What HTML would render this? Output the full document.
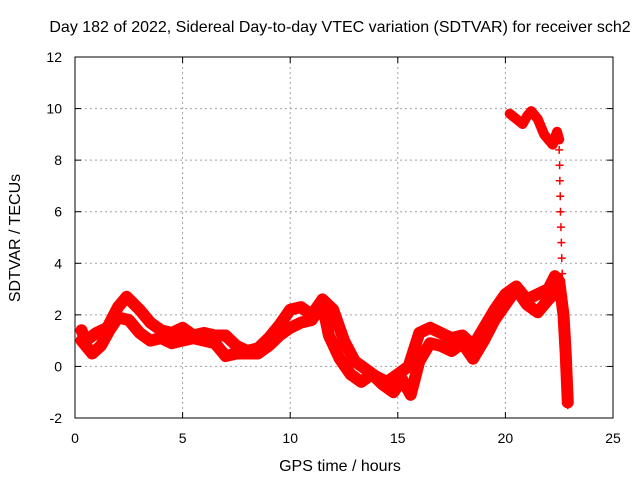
<!DOCTYPE html>
<html><head><meta charset="utf-8"><style>
body{margin:0;background:#fff}
svg{display:block;font-family:"Liberation Sans",sans-serif}
</style></head><body>
<svg id="chart" width="640" height="480">
<text x="340" y="32" font-size="16" text-anchor="middle">Day 182 of 2022, Sidereal Day-to-day VTEC variation (SDTVAR) for receiver sch2</text>
<text x="340" y="471" font-size="16" text-anchor="middle">GPS time / hours</text>
<text x="20" y="238" font-size="16" text-anchor="middle" transform="rotate(-90 20 238)">SDTVAR / TECUs</text>
<g id="grid"></g>
<g id="ticks"></g>
<g id="series"></g>
<rect x="75" y="57" width="538" height="361" fill="none" stroke="#000" stroke-width="1"/>
</svg>
<script>
const xTicks=[0,5,10,15,20,25];
const yTicks=[-2,0,2,4,6,8,10,12];
const traceA_t=[0.3,0.5,1,1.5,2,2.4,3,3.5,4,4.5,5,5.5,6,6.5,7,7.5,8,8.5,9,9.5,10,10.5,11,11.5,12,12.5,13,13.5,14,14.5,15,15.5,16,16.5,17,17.5,18,18.5,19,19.5,20,20.5,21,21.5,22,22.3,22.5,22.7,22.8,22.9];
const traceA_v=[1.4,1.0,1.3,1.5,2.3,2.7,2.2,1.7,1.4,1.3,1.5,1.2,1.3,1.2,1.2,0.8,0.6,0.7,1.1,1.6,2.2,2.3,2.0,2.6,2.2,1.0,0.2,-0.1,-0.4,-0.6,-0.3,0.0,1.3,1.5,1.3,1.1,1.2,0.8,1.5,2.2,2.8,3.1,2.6,2.8,3.0,3.5,3.3,2.0,0.5,-1.4];
const traceB_t=[0.3,0.8,1.2,1.6,2,2.5,3,3.5,4,4.5,5,5.5,6,6.5,7,7.5,8,8.5,9,9.5,10,10.5,11,11.5,11.8,12.3,12.8,13.3,13.8,14.3,14.8,15.2,15.6,16,16.5,17,17.5,18,18.5,19,19.5,20,20.5,21,21.5,22,22.5];
const traceB_v=[1.0,0.5,0.8,1.4,1.9,1.8,1.3,1.0,1.1,0.9,1.0,1.1,1.0,0.9,0.4,0.5,0.5,0.5,0.8,1.2,1.5,1.7,1.8,2.4,1.2,0.3,-0.3,-0.6,-0.3,-0.7,-1.0,-0.5,-1.1,0.2,0.9,0.8,0.6,0.9,0.3,1.0,1.8,2.4,3.0,2.4,2.1,2.6,3.0];
const traceC_t=[20.2,20.5,20.8,21,21.2,21.5,21.8,22.2,22.4,22.5];
const traceC_v=[9.8,9.6,9.4,9.7,9.9,9.6,9.0,8.6,9.1,8.8];
const tail_t=[22.5,22.52,22.53,22.55,22.56,22.58,22.6,22.62,22.64,22.65,22.7,22.72,22.75,22.8,22.82,22.85,22.88,22.9];
const tail_v=[8.4,7.8,7.2,6.6,6.0,5.4,4.8,4.2,3.6,2.5,1.5,1.0,0.6,-0.2,-0.5,-0.8,-1.3,-1.5];

const NS='http://www.w3.org/2000/svg';
const X=t=>75+t*538/25;
const Y=v=>57+(12-v)*361/14;
const g=document.getElementById('grid'),tk=document.getElementById('ticks'),s=document.getElementById('series');
function mk(tag,attrs,parent){const e=document.createElementNS(NS,tag);for(const k in attrs)e.setAttribute(k,attrs[k]);parent.appendChild(e);return e;}
xTicks.forEach(t=>{
 if(t>0&&t<25){const l=mk('line',{x1:X(t),x2:X(t),y1:57,y2:418,stroke:'#a0a0a0','stroke-dasharray':'2,3'},g);
 
 }
 mk('line',{x1:X(t),x2:X(t),y1:418,y2:412,stroke:'#000'},tk);
 mk('line',{x1:X(t),x2:X(t),y1:57,y2:63,stroke:'#000'},tk);
 const tx=mk('text',{x:X(t),y:443,'font-size':14,'text-anchor':'middle'},tk);tx.textContent=t;
 
 
});
yTicks.forEach(v=>{
 if(v>-2&&v<12){const l=mk('line',{x1:75,x2:613,y1:Y(v),y2:Y(v),stroke:'#a0a0a0','stroke-dasharray':'2,3'},g);
 
 }
 mk('line',{x1:75,x2:81,y1:Y(v),y2:Y(v),stroke:'#000'},tk);
 mk('line',{x1:613,x2:607,y1:Y(v),y2:Y(v),stroke:'#000'},tk);
 const tx=mk('text',{x:62,y:Y(v)+5,'font-size':14,'text-anchor':'end'},tk);tx.textContent=v;
 
 
});
function band(ts,vs,w,name){
 const pts=ts.map((t,i)=>X(t).toFixed(1)+','+Y(vs[i]).toFixed(1)).join(' ');
 const p=mk('polyline',{points:pts,fill:'none',stroke:'#f00','stroke-width':w,'stroke-linejoin':'round','stroke-linecap':'round'},s);
 
 
}
function marks(ts,vs,name){
 ts.forEach((t,i)=>{const x=X(t),y=Y(vs[i]);
  const p=mk('path',{d:`M${x-4},${y}H${x+4}M${x},${y-4}V${y+4}`,stroke:'#f00','stroke-width':1.5},s);
  
  });
}
band(traceA_t,traceA_v,12,'trace-upper');
band(traceB_t,traceB_v,12,'trace-lower');
band(traceC_t,traceC_v,10,'trace-top');
marks(traceA_t,traceA_v,'point-upper');
marks(traceB_t,traceB_v,'point-lower');
marks(traceC_t,traceC_v,'point-top');
marks(tail_t,tail_v,'point-tail');
</script>
</body></html>
